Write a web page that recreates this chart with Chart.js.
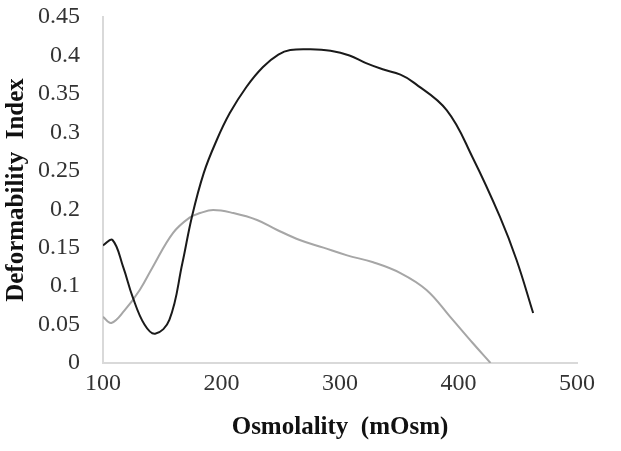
<!DOCTYPE html>
<html>
<head>
<meta charset="utf-8">
<script src="https://cdn.jsdelivr.net/npm/chart.js@4"></script>
<style>
  html,body{margin:0;padding:0;background:#fff;}
  #wrap{width:621px;height:451px;}
</style>
</head>
<body>
<div id="wrap"><canvas id="c" width="621" height="451"></canvas></div>
<script>
// osmolality (mOsm) / deformability index
const blackX=[100,108,117,125,135,144,156,167,175,185,196,207,221,235,248,258,275,292,308,322,336,351,362,390,412,435,449,463];
const blackY=[0.153,0.160,0.125,0.086,0.050,0.038,0.056,0.130,0.190,0.247,0.290,0.325,0.359,0.385,0.401,0.407,0.408,0.406,0.400,0.390,0.382,0.375,0.365,0.329,0.267,0.190,0.134,0.065];
const grayX=[100,107,118,131,142,159,173,182,193,210,230,247,266,286,306,328,351,373,393,412,427];
const grayY=[0.060,0.052,0.068,0.095,0.125,0.169,0.189,0.195,0.199,0.195,0.186,0.173,0.160,0.150,0.140,0.131,0.117,0.095,0.060,0.026,0];
const xTicks=[100,200,300,400,500];
const yTicks=[0,0.05,0.1,0.15,0.2,0.25,0.3,0.35,0.4,0.45];

const pts=(xs,ys)=>xs.map((x,i)=>({x:x,y:ys[i]}));
const serif="'Liberation Serif', 'Times New Roman', serif";

new Chart(document.getElementById("c"),{
  type:"scatter",
  data:{
    datasets:[
      {data:pts(blackX,blackY),showLine:true,borderColor:"#1a1a1a",borderWidth:2,pointRadius:0,tension:0.4},
      {data:pts(grayX,grayY),showLine:true,borderColor:"#a6a6a6",borderWidth:2,pointRadius:0,tension:0.4}
    ]
  },
  options:{
    responsive:false,
    animation:false,
    layout:{padding:{top:17,right:44,left:0,bottom:0}},
    plugins:{legend:{display:false},tooltip:{enabled:false}},
    scales:{
      x:{
        type:"linear",min:100,max:500,
        afterBuildTicks:s=>{s.ticks=xTicks.map(v=>({value:v}));},
        afterFit:s=>{s.height=88;s.paddingLeft=0;s.paddingRight=0;},
        grid:{drawOnChartArea:false,drawTicks:false},
        border:{color:"#d9d9d9",width:2},
        ticks:{padding:6,color:"#333",font:{family:serif,size:24},maxRotation:0},
        title:{display:true,text:"Osmolality  (mOsm)",color:"#111",font:{family:serif,size:25,weight:"bold"},padding:{top:4,bottom:8}}
      },
      y:{
        type:"linear",min:0,max:0.45,
        afterBuildTicks:s=>{s.ticks=yTicks.map(v=>({value:v}));},
        afterFit:s=>{s.width=103;s.paddingTop=0;s.paddingBottom=0;},
        grid:{drawOnChartArea:false,drawTicks:false},
        border:{color:"#d9d9d9",width:2},
        ticks:{padding:23,color:"#333",font:{family:serif,size:24},callback:v=>String(v)},
        title:{display:true,text:"Deformability  Index",color:"#111",font:{family:serif,size:25,weight:"bold"},padding:{top:2,bottom:0}}
      }
    }
  }
});
</script>
</body>
</html>
